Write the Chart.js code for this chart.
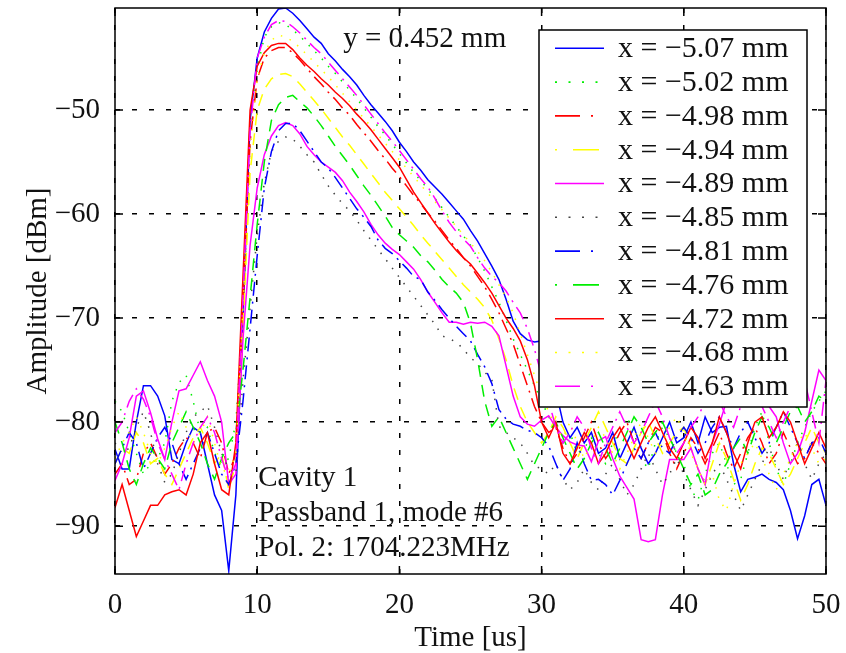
<!DOCTYPE html>
<html>
<head>
<meta charset="utf-8">
<script src="https://cdn.jsdelivr.net/npm/chart.js@4.4.1/dist/chart.umd.min.js"></script>
<style>
  html, body { margin: 0; padding: 0; background: #fff; }
</style>
</head>
<body>
<canvas id="myChart" width="846" height="653"></canvas>
<script>
// Time axis [us], one sample every 0.5 us
const time = [0,0.5,1,1.5,2,2.5,3,3.5,4,4.5,5,5.5,6,6.5,7,7.5,8,8.5,9,9.5,
  10,10.5,11,11.5,12,12.5,13,13.5,14,14.5,15,15.5,16,16.5,17,17.5,18,18.5,19,19.5,
  20,20.5,21,21.5,22,22.5,23,23.5,24,24.5,25,25.5,26,26.5,27,27.5,28,28.5,29,29.5,
  30,30.5,31,31.5,32,32.5,33,33.5,34,34.5,35,35.5,36,36.5,37,37.5,38,38.5,39,39.5,
  40,40.5,41,41.5,42,42.5,43,43.5,44,44.5,45,45.5,46,46.5,47,47.5,48,48.5,49,49.5,50];

const seriesLabels = ['x = \u22125.07 mm', 'x = \u22125.02 mm', 'x = \u22124.98 mm', 'x = \u22124.94 mm',
  'x = \u22124.89 mm', 'x = \u22124.85 mm', 'x = \u22124.81 mm', 'x = \u22124.76 mm',
  'x = \u22124.72 mm', 'x = \u22124.68 mm', 'x = \u22124.63 mm'];

// Amplitude [dBm] per series
const ampA = [-82.6,-84.5,-84.5,-80,-76.5,-76.5,-77.5,-79.4,-83.6,-84,
  -82,-80.5,-81,-84,-87,-88.5,-94.3,-87,-70,-51,
  -45,-42.5,-41.2,-40.3,-40.2,-40.7,-41.4,-42.2,-43,-43.6,
  -44.6,-45.3,-46.1,-46.8,-47.6,-48.6,-49.5,-50.3,-51.1,-52,
  -53.1,-54,-55,-55.8,-56.7,-57.4,-58.1,-58.9,-59.7,-60.5,
  -61.6,-62.6,-63.8,-65,-66.3,-68.2,-70.3,-71.5,-72.1,-72.3,
  -72.2,-74,-77,-80,-81.5,-80.5,-82,-81,-83,-82.5,
  -81,-83.5,-82,-80.5,-82.5,-84,-83,-81.5,-80,-82,
  -81.5,-80,-82,-79.5,-81,-80.5,-80.4,-84,-86.7,-85.5,
  -85.3,-85,-85.5,-85.8,-86.5,-88.5,-91.2,-89,-86,-85.5,
  -88];
const ampB = [-78,-79,-81,-83,-85,-84,-83.5,-82,-78,-76.2,
  -75.5,-78,-81,-80.5,-83,-84,-83.5,-80,-70,-53,
  -46,-43,-42,-41.6,-41.8,-42.3,-42.9,-43.6,-44.3,-45,
  -45.8,-46.5,-47.3,-48.1,-48.9,-49.8,-50.7,-51.6,-52.4,-53.3,
  -54.2,-55.1,-56,-56.8,-57.6,-58.5,-59.4,-60.3,-61.2,-62.1,
  -63,-64.2,-65.5,-67,-68.5,-70.2,-72,-73.5,-75,-76.5,
  -78,-79.5,-80.5,-82,-81,-83,-82.5,-81.5,-83,-84,
  -82,-81,-79.5,-81,-83.5,-84.5,-82,-80.5,-81.5,-83,
  -84,-86.5,-87.5,-85,-83,-82,-84,-86,-85.5,-83,
  -80.5,-79,-82,-84.5,-86,-84,-82,-80.5,-79,-78,
  -77];
const ampC = [-85,-84,-86,-85.5,-83,-82,-83.5,-85,-84,-82.5,
  -81.5,-82,-83.5,-81,-80.5,-82,-85,-83,-69,-53,
  -47,-45,-44.3,-44,-44,-44.5,-45.2,-46,-46.8,-47.5,
  -48.3,-49,-49.8,-50.5,-51.4,-52.2,-53,-53.9,-54.7,-55.6,
  -56.4,-57.3,-58.2,-59,-59.9,-60.7,-61.6,-62.5,-63.3,-64.2,
  -65,-66,-67,-68.2,-69.5,-71,-72.5,-74.5,-76.5,-78.5,
  -80,-81,-80.5,-82.5,-84,-83,-81.5,-80,-82,-83.5,
  -82.5,-81,-80,-82,-83.5,-82,-80.5,-81,-83,-84.5,
  -83,-81.5,-82.5,-84,-82.5,-81,-83,-84.5,-83,-81.5,
  -80.5,-82,-84,-83,-81,-82.5,-84,-83.5,-82,-83,
  -84];
const ampD = [-84,-82.5,-83,-81,-82,-84,-83.5,-85,-86,-84.5,
  -83,-81.5,-80.5,-82,-84,-83,-86.5,-84,-71,-56,
  -50,-48,-47,-46.6,-46.5,-46.8,-47.5,-48.3,-49.1,-49.9,
  -50.8,-51.7,-52.6,-53.4,-54.3,-55.2,-56.1,-57,-57.9,-58.7,
  -59.5,-60.3,-61.1,-62,-62.8,-63.6,-64.4,-65.2,-66,-66.8,
  -67.5,-68.2,-69,-70.2,-72,-74,-76.5,-78.5,-80,-81,
  -82,-81,-79.5,-80.5,-82,-83.5,-82,-80.5,-79,-80.5,
  -82,-83.5,-84,-82.5,-81,-80,-81.5,-83,-82,-81,
  -80.5,-82.5,-84.5,-86,-84,-82,-83.5,-85.5,-87.5,-86,
  -84,-82.5,-83,-84.5,-86,-85,-83.5,-82,-80.5,-82,
  -83];
const ampE = [-85.6,-84,-81.5,-77.5,-77,-79.1,-81.6,-83.6,-80,-77,
  -76.8,-75.5,-74.2,-76,-77.5,-80,-86,-85,-72,-63,
  -57.5,-54.3,-52.5,-51.5,-51.2,-51.5,-52.3,-53.5,-54.3,-55,
  -55.5,-56,-56.8,-57.9,-58.8,-59.8,-61,-62,-62.8,-63.4,
  -63.9,-64.6,-65.3,-66.3,-67.5,-68.5,-69.5,-70.4,-70.4,-70.6,
  -70.4,-70.5,-70.4,-70.8,-71.7,-74.6,-77.5,-79.5,-80.2,-80.4,
  -79.8,-79.4,-80.5,-81.3,-81.9,-82.2,-82.3,-83.8,-81.8,-81.4,
  -83.5,-85.2,-86.3,-87.4,-91.3,-91.5,-91.3,-87,-83.6,-83.6,
  -83.6,-82.5,-84.5,-86,-82,-80.2,-78,-77.8,-77.5,-77.6,
  -78,-78.3,-78.5,-79.5,-82,-84,-83,-81,-78,-75,
  -76];
const ampF = [-82,-83,-82.5,-80.5,-79,-81,-84,-85.8,-85,-83,
  -81,-79.5,-79,-78.4,-80.5,-83,-84.5,-85,-76,-69,
  -62,-57,-54,-53,-52.6,-52.8,-53.5,-54.3,-55,-56.2,
  -57.3,-58.2,-59,-59.7,-60.6,-61.6,-62.5,-63.4,-64.3,-65.2,
  -66.1,-67,-67.9,-68.8,-69.7,-70.6,-71.7,-72,-72.3,-73,
  -73.8,-74.4,-75.2,-75.9,-80.4,-81,-81.5,-82,-83,-84.2,
  -84.5,-85,-84,-85.5,-86.5,-85.8,-84.5,-85.8,-86.5,-85,
  -84,-85.5,-87,-86,-84.5,-83,-84.5,-86,-85,-83.5,
  -85,-86.5,-88,-86.5,-85,-84,-85.5,-87,-88.5,-87,
  -85.5,-84,-82.5,-84,-85.5,-83.5,-82,-84,-85.5,-84,
  -83];
const ampG = [-84,-82.5,-81,-82,-84.5,-83,-81.5,-80.5,-82,-84,
  -85.5,-84,-82.5,-81,-83,-85,-86,-84,-78,-71,
  -64,-57.5,-54,-52,-51.3,-51.3,-52,-53,-54,-55,
  -55.6,-56.5,-57.5,-58.5,-59.5,-60.3,-61.2,-62.5,-63.3,-63.8,
  -64.5,-65.2,-66,-66.3,-67.5,-68.3,-69.2,-70,-70.8,-71.5,
  -72.2,-73.5,-74.7,-76.3,-78.8,-79.7,-80.2,-80.4,-80.8,-81,
  -81.5,-82.3,-84,-85.6,-84.5,-82,-84,-85.6,-85.5,-86,
  -87,-85.6,-84,-82.5,-83.5,-82,-81,-82.5,-83,-81.5,
  -80.5,-81.5,-83,-82,-80.5,-79.5,-81,-82.5,-81,-80,
  -81.5,-83,-82,-80.5,-79,-80.5,-82,-83.5,-82,-81.5,
  -83];
const ampH = [-80,-82,-84.5,-86,-84,-82.5,-83.5,-84.5,-82,-80.5,
  -79,-80.5,-82,-84,-85.5,-83.5,-82,-81,-75,-68,
  -61,-55,-51,-49.5,-48.8,-48.6,-49.2,-49.8,-50.6,-51.5,
  -52.5,-53.5,-54.4,-55.3,-56.3,-57.3,-58.2,-59.2,-60.2,-61.3,
  -62,-62.6,-63.2,-64,-64.6,-65.4,-66.3,-67,-67.6,-68.5,
  -70.5,-74,-78,-80.4,-79.5,-81,-82.5,-84,-85.5,-84,
  -82.5,-81,-80,-81.5,-83,-84.5,-83.5,-82,-81,-82.5,
  -84,-82.5,-81,-79.5,-80.5,-82,-81,-80,-81.5,-83,
  -84.5,-86,-85,-87,-86.5,-85,-84,-82.5,-81.5,-83,
  -81,-79.5,-80.5,-82,-80.5,-79,-78.5,-80,-79,-77.5,
  -78];
const ampI = [-88.2,-86,-88.5,-91,-89.5,-88,-88,-87,-86.7,-86.5,
  -87,-85,-82,-81,-84,-86.5,-87,-82,-66,-50,
  -45.8,-44.5,-43.8,-43.6,-43.6,-44.2,-45,-45.7,-46.3,-47,
  -47.6,-48.3,-48.9,-49.6,-50.4,-51.1,-51.9,-52.8,-53.7,-54.6,
  -55.5,-56.7,-57.9,-58.9,-59.9,-60.9,-61.8,-62.7,-63.5,-64.2,
  -64.8,-65.7,-66.6,-67.6,-68.8,-70,-71,-72.2,-74,-76.5,
  -80,-81.5,-80,-83,-84,-82.5,-81,-82,-84,-83,
  -81.5,-80.5,-82,-83.5,-82,-80.5,-79.5,-81,-82.5,-83.5,
  -82,-80.5,-81.5,-83.5,-82,-79.5,-81,-83,-84.5,-82,
  -80,-79.5,-81.5,-80.5,-79,-80,-82,-84,-82.5,-81,
  -82.5];
const ampJ = [-83.5,-82,-81,-79.5,-81,-83,-84,-82.5,-80.5,-79,
  -80.5,-82,-81,-79.5,-82,-84.5,-85,-83,-69,-54,
  -47,-44.5,-43.3,-42.8,-43,-43.4,-44,-44.7,-45.4,-46.1,
  -46.8,-47.6,-48.4,-49.2,-50,-50.8,-51.6,-52.4,-53.2,-54,
  -54.8,-55.6,-56.4,-57.2,-58,-58.8,-59.6,-60.4,-61.2,-62,
  -62.8,-63.6,-64.5,-65.6,-66.8,-68,-69.5,-71.5,-73.5,-75.5,
  -77.5,-79,-80.5,-81.5,-80,-82,-83.5,-82,-80.5,-81.5,
  -83,-84.5,-83,-81.5,-80,-81.5,-83,-82,-80.5,-79.5,
  -81,-83,-84.5,-86,-85,-87.5,-88.5,-86,-84,-83,
  -82,-83.5,-85,-86.5,-85,-83.5,-82,-81,-82.5,-84,
  -83.5];
const ampK = [-81,-80,-78,-76.8,-77.8,-79.5,-82,-83.6,-85,-86.5,
  -84,-82,-80.5,-79.5,-81,-83.5,-85.5,-84,-68,-52,
  -45,-43,-41.8,-41.4,-41.5,-42,-42.6,-43.3,-44,-44.6,
  -45.4,-46.2,-47,-47.8,-48.6,-49.5,-50.4,-51.3,-52.2,-53,
  -53.9,-54.8,-55.7,-56.6,-57.4,-58.5,-59.7,-60.8,-61.7,-62.4,
  -63.1,-64.2,-65.2,-66,-66.6,-67.4,-68.5,-69.5,-71,-73,
  -75.5,-78,-80.5,-82,-81,-79.5,-80.5,-82.5,-84,-82,
  -80.5,-79,-80.5,-82,-81,-79.5,-78,-79.5,-81.5,-83,
  -82,-80.5,-79.5,-78,-77,-78,-79.5,-80.5,-78.5,-77.5,
  -77,-78.5,-80,-81.5,-80,-78.5,-77,-76,-79,-82,
  -76];

const allAmps = [ampA, ampB, ampC, ampD, ampE, ampF, ampG, ampH, ampI, ampJ, ampK];
const colors = ['#0000ff', '#00ee00', '#ff0000', '#ffff00', '#ff00ff', '#444444',
  '#0000ff', '#00ee00', '#ff0000', '#ffff00', '#ff00ff'];
const styles = ['solid', 'dot', 'dashdot', 'dash', 'solid', 'dot', 'dashdot', 'dash', 'solid', 'dot', 'dashdot'];

const plotDash = { solid: [], dot: [1.5, 8], dashdot: [14, 6, 2, 6], dash: [12, 8] };
const legendDash = { solid: [], dot: [2, 11.5], dashdot: [25, 11, 2, 60], dash: [26, 16] };

const FONT = '"Liberation Serif", "Times New Roman", serif';
Chart.defaults.font.family = FONT;
Chart.defaults.color = '#111';

// frame, inward ticks, notes and the boxed legend
const matlabLook = {
  id: 'matlabLook',
  afterDraw(chart) {
    const {ctx, chartArea: a, scales: {x, y}} = chart;
    ctx.save();
    ctx.strokeStyle = '#000';
    ctx.lineWidth = 1.5;
    ctx.setLineDash([]);
    ctx.strokeRect(a.left, a.top, a.right - a.left, a.bottom - a.top);
    ctx.beginPath();
    x.ticks.forEach(t => {
      const px = x.getPixelForValue(t.value);
      ctx.moveTo(px, a.bottom); ctx.lineTo(px, a.bottom - 8);
      ctx.moveTo(px, a.top); ctx.lineTo(px, a.top + 8);
    });
    y.ticks.forEach(t => {
      const py = y.getPixelForValue(t.value);
      ctx.moveTo(a.left, py); ctx.lineTo(a.left + 8, py);
      ctx.moveTo(a.right, py); ctx.lineTo(a.right - 8, py);
    });
    ctx.stroke();

    ctx.fillStyle = '#111';
    ctx.font = '29px ' + FONT;
    ctx.textBaseline = 'middle';
    ctx.textAlign = 'left';
    ctx.fillText('y = 0.452 mm', x.getPixelForValue(16.05), y.getPixelForValue(-43.2));
    ctx.fillText('Cavity 1', x.getPixelForValue(10.07), y.getPixelForValue(-85.43));
    ctx.fillText('Passband 1, mode #6', x.getPixelForValue(10.07), y.getPixelForValue(-88.8));
    ctx.fillText('Pol. 2: 1704.223MHz', x.getPixelForValue(10.07), y.getPixelForValue(-92.17));

    // legend box
    const bx = 539, by = 30, bw = 268, bh = 377;
    ctx.fillStyle = '#fff';
    ctx.fillRect(bx, by, bw, bh);
    ctx.strokeStyle = '#000';
    ctx.lineWidth = 1.5;
    ctx.strokeRect(bx, by, bw, bh);
    ctx.font = '30px ' + FONT;
    seriesLabels.forEach((lab, i) => {
      const cy = 48.3 + 33.8 * i;
      ctx.strokeStyle = colors[i];
      ctx.lineWidth = 1.6;
      ctx.setLineDash(legendDash[styles[i]]);
      ctx.lineDashOffset = styles[i] === 'dash' ? 24 : 0;
      ctx.beginPath();
      ctx.moveTo(555, cy); ctx.lineTo(604, cy);
      ctx.stroke();
      ctx.setLineDash([]);
      ctx.lineDashOffset = 0;
      ctx.fillStyle = '#111';
      ctx.fillText(lab, 618, cy + 1);
    });
    ctx.restore();
  }
};

const ctx = document.getElementById('myChart');

new Chart(ctx, {
  type: 'line',
  data: {
    datasets: allAmps.map((vals, i) => ({
      label: seriesLabels[i],
      data: vals.map((v, k) => ({x: time[k], y: v})),
      borderColor: colors[i],
      borderDash: plotDash[styles[i]],
      borderWidth: 1.5,
      pointRadius: 0,
      fill: false,
      tension: 0,
      order: allAmps.length - i
    }))
  },
  options: {
    responsive: false,
    animation: false,
    layout: { padding: { left: 0, right: 20, top: 8, bottom: 0 } },
    plugins: { legend: { display: false }, tooltip: { enabled: false } },
    scales: {
      x: {
        type: 'linear',
        min: 0,
        max: 50,
        ticks: { stepSize: 10, includeBounds: false, maxRotation: 0, padding: 14, color: '#111', font: { size: 29 } },
        grid: { color: '#000', lineWidth: 1.5, drawTicks: false },
        border: { display: false, dash: [5, 12] },
        title: { display: true, text: 'Time [us]', color: '#111', font: { size: 29 }, padding: { top: 0, bottom: -3 } },
        afterFit: s => { s.height = 79; s.paddingLeft = 0; s.paddingRight = 0; }
      },
      y: {
        type: 'linear',
        min: -94.6,
        max: -40.2,
        ticks: {
          stepSize: 10, includeBounds: false, padding: 15, color: '#111', font: { size: 29 },
          callback: v => (v < 0 ? '\u2212' + Math.abs(v) : String(v))
        },
        grid: { color: '#000', lineWidth: 1.5, drawTicks: false },
        border: { display: false, dash: [5, 12] },
        title: { display: true, text: 'Amplitude [dBm]', color: '#111', font: { size: 29 }, padding: { top: 21, bottom: 0 } },
        afterFit: s => { s.width = 115; s.paddingTop = 0; s.paddingBottom = 0; }
      }
    }
  },
  plugins: [matlabLook]
});
</script>
</body>
</html>
